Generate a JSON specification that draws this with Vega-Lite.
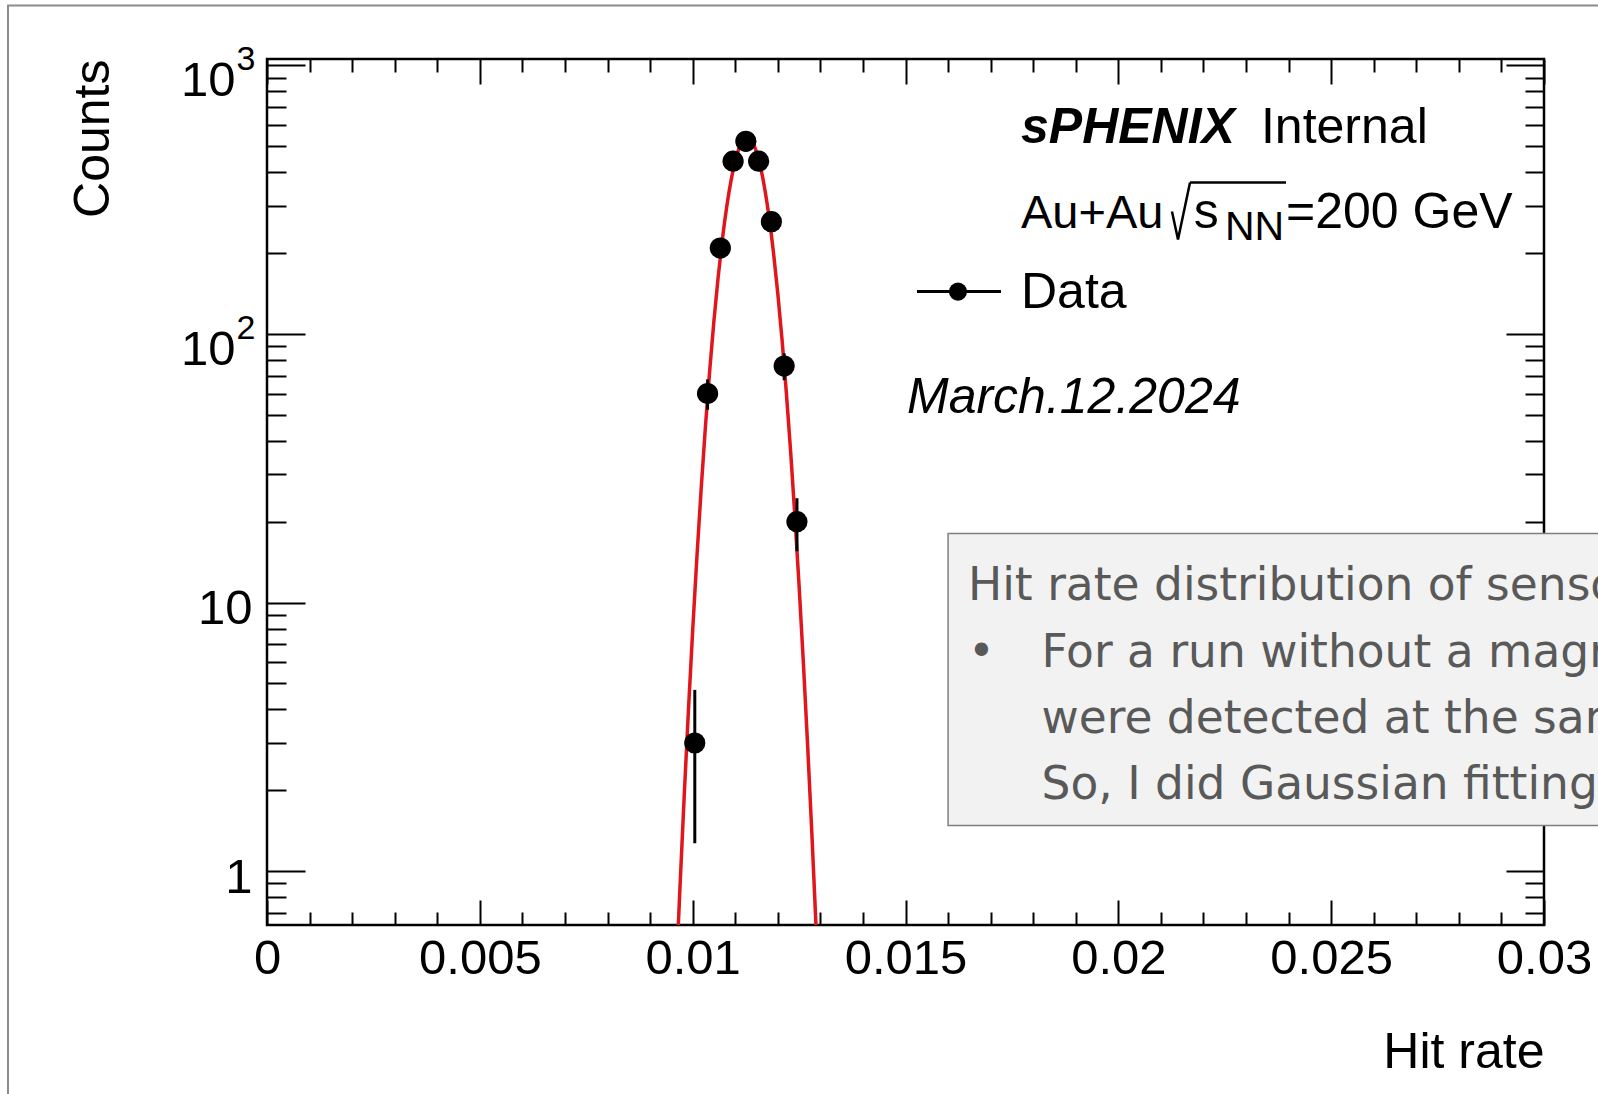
{
  "$schema": "https://vega.github.io/schema/vega-lite/v6.json",
  "width": 1277,
  "height": 866,
  "autosize": "none",
  "padding": {"left": 267, "top": 59, "right": 54, "bottom": 169},
  "background": "white",
  "config": {
    "view": {"stroke": "black", "strokeWidth": 2.5},
    "axis": {"grid": false, "domain": false, "labelFont": "Liberation Sans", "titleFont": "Liberation Sans", "tickColor": "black", "tickWidth": 2, "labelColor": "black", "titleColor": "black", "titleFontWeight": "normal"}
  },
  "datasets": {
    "hist": [
      {"rate": 0.01005, "counts": 3, "lo": 1.27, "hi": 4.73},
      {"rate": 0.01035, "counts": 60, "lo": 52.25, "hi": 67.75},
      {"rate": 0.01065, "counts": 209, "lo": 194.5, "hi": 223.5},
      {"rate": 0.01095, "counts": 440, "lo": 419.0, "hi": 461.0},
      {"rate": 0.01125, "counts": 522, "lo": 499.2, "hi": 544.8},
      {"rate": 0.01155, "counts": 440, "lo": 419.0, "hi": 461.0},
      {"rate": 0.01185, "counts": 262, "lo": 245.8, "hi": 278.2},
      {"rate": 0.01215, "counts": 76, "lo": 67.3, "hi": 84.7},
      {"rate": 0.01245, "counts": 20, "lo": 15.53, "hi": 24.47}
    ],
    "fit": [
      {"rate": 0.00966, "f": 0.614},
      {"rate": 0.0097, "f": 0.856},
      {"rate": 0.0098, "f": 1.887},
      {"rate": 0.0099, "f": 3.949},
      {"rate": 0.0100, "f": 7.86},
      {"rate": 0.0101, "f": 14.81},
      {"rate": 0.0102, "f": 26.56},
      {"rate": 0.0103, "f": 45.2},
      {"rate": 0.0104, "f": 73.1},
      {"rate": 0.0105, "f": 112.2},
      {"rate": 0.0106, "f": 163.6},
      {"rate": 0.0107, "f": 226.5},
      {"rate": 0.0108, "f": 297.8},
      {"rate": 0.0109, "f": 371.9},
      {"rate": 0.0110, "f": 441.1},
      {"rate": 0.0111, "f": 496.6},
      {"rate": 0.0112, "f": 531.2},
      {"rate": 0.01128, "f": 540},
      {"rate": 0.0114, "f": 520.4},
      {"rate": 0.0115, "f": 476.5},
      {"rate": 0.0116, "f": 414.5},
      {"rate": 0.0117, "f": 342.4},
      {"rate": 0.0118, "f": 268.6},
      {"rate": 0.0119, "f": 200.1},
      {"rate": 0.0120, "f": 141.6},
      {"rate": 0.0121, "f": 95.1},
      {"rate": 0.0122, "f": 60.7},
      {"rate": 0.0123, "f": 36.8},
      {"rate": 0.0124, "f": 21.1},
      {"rate": 0.0125, "f": 11.56},
      {"rate": 0.0126, "f": 6.0},
      {"rate": 0.0127, "f": 2.95},
      {"rate": 0.0128, "f": 1.383},
      {"rate": 0.0129, "f": 0.614}
    ],
    "one": [{}]
  },
  "resolve": {"axis": {"x": "independent", "y": "independent"}},
  "layer": [
    {
      "data": {"name": "one"},
      "mark": {"type": "rect", "fillOpacity": 0, "fill": "white", "stroke": "#8c8c8c", "strokeWidth": 2},
      "encoding": {
        "x": {"datum": -0.006085, "type": "quantitative", "scale": {"domain": [0, 0.03], "nice": false, "zero": false}, "axis": null},
        "x2": {"datum": 0.04},
        "y": {"datum": 1671, "type": "quantitative", "scale": {"type": "log", "domain": [0.63, 1057], "nice": false}, "axis": null},
        "y2": {"datum": 0.001}
      }
    },
    {
      "data": {"name": "fit"},
      "mark": {"type": "line", "color": "#e0161c", "strokeWidth": 3.5, "clip": true, "interpolate": "monotone"},
      "encoding": {
        "x": {"field": "rate", "type": "quantitative", "scale": {"domain": [0, 0.03], "nice": false, "zero": false},
          "axis": {"orient": "bottom", "values": [0, 0.005, 0.01, 0.015, 0.02, 0.025, 0.03], "format": "~g", "ticks": false, "labelFontSize": 49, "labelBaseline": "alphabetic", "labelPadding": 48, "labelFlush": false, "labelOverlap": false, "labelBound": false,
            "title": "Hit rate", "titleFontSize": 50, "titleX": 1277, "titleY": 142, "titleAlign": "right", "titleBaseline": "alphabetic", "titleAngle": 0}},
        "y": {"field": "f", "type": "quantitative", "scale": {"type": "log", "domain": [0.63, 1057], "nice": false},
          "axis": {"orient": "left", "values": [1, 10, 100, 1000], "labelExpr": "datum.value == 1 ? '1' : '10'", "ticks": false, "labelFontSize": 49, "labelBaseline": "alphabetic", "labelAlign": "right", "labelPadding": {"condition": {"test": "datum.value >= 100", "value": 32}, "value": 15}, "labelOffset": {"condition": {"test": "datum.value >= 100", "value": 30}, "value": 21}, "labelFlush": false, "labelOverlap": false, "labelBound": false,
            "title": "Counts", "titleFontSize": 50, "titleX": -159, "titleY": 0, "titleAlign": "right", "titleBaseline": "alphabetic", "titleAngle": -90}}
      }
    },
    {
      "data": {"name": "hist"},
      "mark": {"type": "rule", "color": "black", "strokeWidth": 3},
      "encoding": {
        "x": {"field": "rate", "type": "quantitative", "scale": {"domain": [0, 0.03], "nice": false, "zero": false},
          "axis": {"orient": "bottom", "values": [0, 0.005, 0.01, 0.015, 0.02, 0.025, 0.03], "labels": false, "tickSize": -25, "title": null}},
        "y": {"field": "lo", "type": "quantitative", "scale": {"type": "log", "domain": [0.63, 1057], "nice": false},
          "axis": {"orient": "left", "values": [1, 10, 100, 1000], "labels": false, "tickSize": -38, "title": null}},
        "y2": {"field": "hi"}
      }
    },
    {
      "data": {"name": "hist"},
      "mark": {"type": "circle", "color": "black", "opacity": 1, "size": 450},
      "encoding": {
        "x": {"field": "rate", "type": "quantitative", "scale": {"domain": [0, 0.03], "nice": false, "zero": false},
          "axis": {"orient": "bottom", "values": [0.001, 0.002, 0.003, 0.004, 0.006, 0.007, 0.008, 0.009, 0.011, 0.012, 0.013, 0.014, 0.016, 0.017, 0.018, 0.019, 0.021, 0.022, 0.023, 0.024, 0.026, 0.027, 0.028, 0.029], "labels": false, "tickSize": -13, "title": null}},
        "y": {"field": "counts", "type": "quantitative", "scale": {"type": "log", "domain": [0.63, 1057], "nice": false},
          "axis": {"orient": "left", "values": [0.7, 0.8, 0.9, 2, 3, 4, 5, 6, 7, 8, 9, 20, 30, 40, 50, 60, 70, 80, 90, 200, 300, 400, 500, 600, 700, 800, 900], "labels": false, "tickSize": -19, "title": null}}
      }
    },
    {
      "data": {"name": "one"},
      "mark": {"type": "rule", "color": "black", "strokeWidth": 3},
      "encoding": {
        "x": {"datum": 0.01527, "type": "quantitative", "scale": {"domain": [0, 0.03], "nice": false, "zero": false},
          "axis": {"orient": "top", "values": [0, 0.005, 0.01, 0.015, 0.02, 0.025, 0.03], "labels": false, "tickSize": -25, "title": null}},
        "x2": {"datum": 0.017243},
        "y": {"datum": 143.9, "type": "quantitative", "scale": {"type": "log", "domain": [0.63, 1057], "nice": false},
          "axis": {"orient": "right", "values": [1, 10, 100, 1000], "labels": false, "tickSize": -38, "title": null}}
      }
    },
    {
      "data": {"name": "one"},
      "mark": {"type": "circle", "color": "black", "opacity": 1, "size": 330},
      "encoding": {
        "x": {"datum": 0.016233, "type": "quantitative", "scale": {"domain": [0, 0.03], "nice": false, "zero": false},
          "axis": {"orient": "top", "values": [0.001, 0.002, 0.003, 0.004, 0.006, 0.007, 0.008, 0.009, 0.011, 0.012, 0.013, 0.014, 0.016, 0.017, 0.018, 0.019, 0.021, 0.022, 0.023, 0.024, 0.026, 0.027, 0.028, 0.029], "labels": false, "tickSize": -13, "title": null}},
        "y": {"datum": 143.9, "type": "quantitative", "scale": {"type": "log", "domain": [0.63, 1057], "nice": false},
          "axis": {"orient": "right", "values": [0.7, 0.8, 0.9, 2, 3, 4, 5, 6, 7, 8, 9, 20, 30, 40, 50, 60, 70, 80, 90, 200, 300, 400, 500, 600, 700, 800, 900], "labels": false, "tickSize": -19, "title": null}}
      }
    },
    {
      "data": {"values": [
        {"t": "Internal", "px": 0.023351, "py": 516.4, "fs": 50},
        {"t": "Au+Au", "px": 0.017713, "py": 249.2, "fs": 47},
        {"t": "s", "px": 0.02177, "py": 249.2, "fs": 50},
        {"t": "NN", "px": 0.022506, "py": 224.8, "fs": 41},
        {"t": "=200 GeV", "px": 0.023939, "py": 249.2, "fs": 50},
        {"t": "Data", "px": 0.017713, "py": 125.5, "fs": 50}
      ]},
      "mark": {"type": "text", "font": "Liberation Sans", "align": "left", "baseline": "alphabetic", "color": "black"},
      "encoding": {
        "x": {"field": "px", "type": "quantitative", "scale": {"domain": [0, 0.03], "nice": false, "zero": false}, "axis": null},
        "y": {"field": "py", "type": "quantitative", "scale": {"type": "log", "domain": [0.63, 1057], "nice": false},
          "axis": {"orient": "left", "values": [100, 1000], "labelExpr": "datum.value == 100 ? '2' : '3'", "ticks": false, "labelFontSize": 34, "labelBaseline": "alphabetic", "labelAlign": "right", "labelPadding": 12, "labelOffset": 4, "labelFlush": false, "labelOverlap": false, "labelBound": false, "title": null}},
        "text": {"field": "t"},
        "size": {"field": "fs", "type": "quantitative", "scale": null}
      }
    },
    {
      "data": {"values": [{"t": "sPHENIX", "px": 0.017713, "py": 516.4}]},
      "mark": {"type": "text", "font": "Liberation Sans", "fontSize": 50, "fontStyle": "italic", "fontWeight": "bold", "align": "left", "baseline": "alphabetic", "color": "black"},
      "encoding": {
        "x": {"field": "px", "type": "quantitative", "scale": {"domain": [0, 0.03], "nice": false, "zero": false}, "axis": null},
        "y": {"field": "py", "type": "quantitative", "scale": {"type": "log", "domain": [0.63, 1057], "nice": false}, "axis": null},
        "text": {"field": "t"}
      }
    },
    {
      "data": {"values": [{"t": "March.12.2024", "px": 0.015035, "py": 51.0}]},
      "mark": {"type": "text", "font": "Liberation Sans", "fontSize": 50, "fontStyle": "italic", "align": "left", "baseline": "alphabetic", "color": "black"},
      "encoding": {
        "x": {"field": "px", "type": "quantitative", "scale": {"domain": [0, 0.03], "nice": false, "zero": false}, "axis": null},
        "y": {"field": "py", "type": "quantitative", "scale": {"type": "log", "domain": [0.63, 1057], "nice": false}, "axis": null},
        "text": {"field": "t"}
      }
    },
    {
      "data": {"name": "one"},
      "mark": {"type": "rule", "color": "black", "strokeWidth": 2.5},
      "encoding": {
        "x": {"datum": 0.021684, "type": "quantitative", "scale": {"domain": [0, 0.03], "nice": false, "zero": false}, "axis": null},
        "x2": {"datum": 0.023939},
        "y": {"datum": 366.4, "type": "quantitative", "scale": {"type": "log", "domain": [0.63, 1057], "nice": false}, "axis": null}
      }
    },
    {
      "data": {"name": "one"},
      "mark": {"type": "rule", "color": "black", "strokeWidth": 2.5},
      "encoding": {
        "x": {"datum": 0.021402, "type": "quantitative", "scale": {"domain": [0, 0.03], "nice": false, "zero": false}, "axis": null},
        "x2": {"datum": 0.021684},
        "y": {"datum": 224.8, "type": "quantitative", "scale": {"type": "log", "domain": [0.63, 1057], "nice": false}, "axis": null},
        "y2": {"datum": 366.4}
      }
    },
    {
      "data": {"name": "one"},
      "mark": {"type": "rule", "color": "black", "strokeWidth": 2.5},
      "encoding": {
        "x": {"datum": 0.02126, "type": "quantitative", "scale": {"domain": [0, 0.03], "nice": false, "zero": false}, "axis": null},
        "x2": {"datum": 0.021402},
        "y": {"datum": 285.8, "type": "quantitative", "scale": {"type": "log", "domain": [0.63, 1057], "nice": false}, "axis": null},
        "y2": {"datum": 224.8}
      }
    },
    {
      "data": {"name": "one"},
      "mark": {"type": "rect", "fill": "#f2f2f2", "stroke": "#7f7f7f", "strokeWidth": 1.5},
      "encoding": {
        "x": {"datum": 0.016, "type": "quantitative", "scale": {"domain": [0, 0.03], "nice": false, "zero": false}, "axis": null},
        "x2": {"datum": 0.034},
        "y": {"datum": 18.08, "type": "quantitative", "scale": {"type": "log", "domain": [0.63, 1057], "nice": false}, "axis": null},
        "y2": {"datum": 1.48}
      }
    },
    {
      "data": {"values": [
        {"t": "Hit rate distribution of sensors", "px": 0.016468, "py": 10.18},
        {"t": "•", "px": 0.016468, "py": 5.733},
        {"t": "For a run without a magnetic field", "px": 0.018195, "py": 5.733},
        {"t": "were detected at the same rate", "px": 0.018195, "py": 3.256},
        {"t": "So, I did Gaussian fitting", "px": 0.018195, "py": 1.849}
      ]},
      "mark": {"type": "text", "font": "DejaVu Sans", "fontSize": 45.5, "align": "left", "baseline": "alphabetic", "color": "#595959"},
      "encoding": {
        "x": {"field": "px", "type": "quantitative", "scale": {"domain": [0, 0.03], "nice": false, "zero": false}, "axis": null},
        "y": {"field": "py", "type": "quantitative", "scale": {"type": "log", "domain": [0.63, 1057], "nice": false}, "axis": null},
        "text": {"field": "t"}
      }
    }
  ]
}
